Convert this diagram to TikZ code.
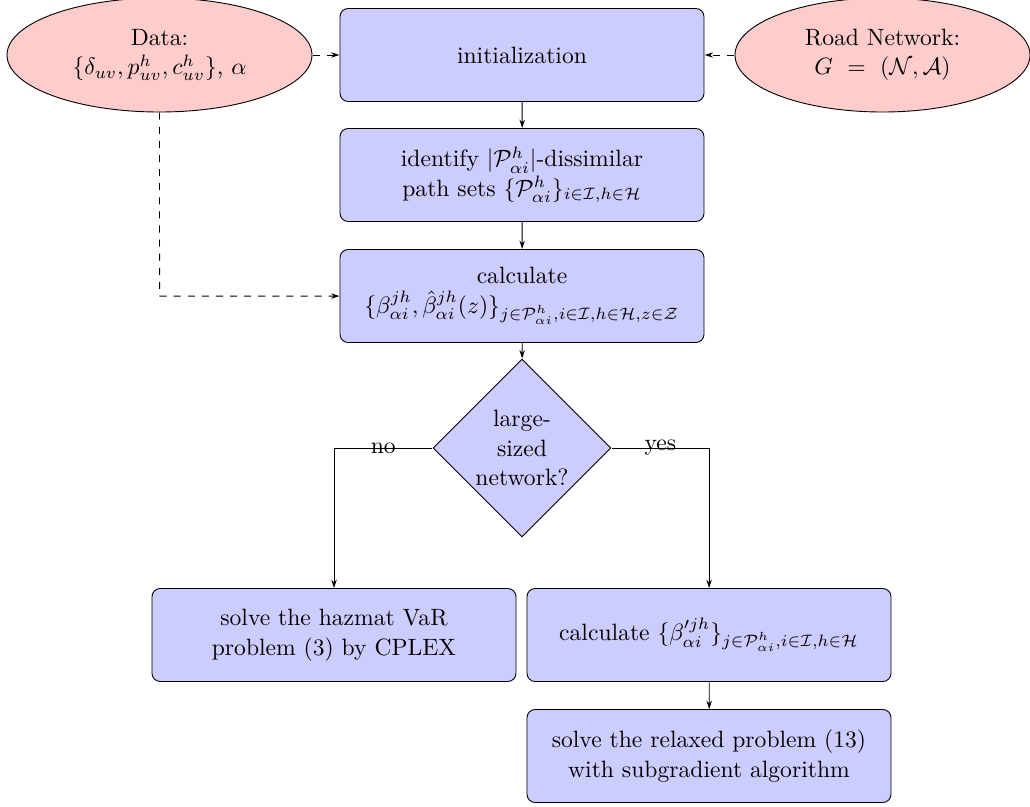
\documentclass[tikz,border=0pt]{standalone}
\usepackage{amsmath}
\usetikzlibrary{shapes.geometric,arrows.meta}
\begin{document}
\begin{tikzpicture}[scale=1.44,x=0.4236pt,y=-0.4236pt,line width=0.55pt,
  every node/.style={transform shape,font=\fontsize{10}{12.5}\selectfont},
  proc/.style={draw,fill=blue!20,rounded corners=5pt,align=center,
    minimum width=364*0.4236pt,minimum height=93*0.4236pt,inner sep=0pt},
  datum/.style={draw,fill=red!20,ellipse,align=center,
    minimum width=305*0.4236pt,minimum height=114*0.4236pt,inner sep=0pt},
  decision/.style={draw,fill=blue!20,diamond,aspect=1,align=center,
    minimum width=178*0.4236pt,minimum height=178*0.4236pt,inner sep=0pt},
  dashline/.style={dash pattern=on 4.3pt off 4.3pt},
  arr/.style={-{Stealth[length=5pt,width=3.3pt]}},
  darr/.style={arr,dashline}]
\useasboundingbox (0,0) rectangle (1030,807);
\node[datum] (data) at (159.5,55) {Data:\\$\{\delta_{uv},p^h_{uv},c^h_{uv}\}$, $\alpha$};
\node[datum,minimum width=295*0.4236pt] (road) at (882.5,55) {Road Network:\\$G\ =\ (\mathcal{N},\mathcal{A})$};
\node[proc] (init) at (522,55) {initialization};
\node[proc] (ident) at (522,175) {identify $|\mathcal{P}^h_{\alpha i}|$-dissimilar\\path sets $\{\mathcal{P}^h_{\alpha i}\}_{i\in\mathcal{I},h\in\mathcal{H}}$};
\node[proc] (calc) at (522,296) {calculate\\$\{\beta^{jh}_{\alpha i},\hat{\beta}^{jh}_{\alpha i}(z)\}_{j\in\mathcal{P}^h_{\alpha i},i\in\mathcal{I},h\in\mathcal{H},z\in\mathcal{Z}}$};
\node[decision] (dec) at (522,448) {large-\\sized\\network?};
\node[proc] (cplex) at (334,635) {solve the hazmat VaR\\problem (3) by CPLEX};
\node[proc] (calc2) at (709,635) {calculate $\{\beta^{\prime jh}_{\alpha i}\}_{j\in\mathcal{P}^h_{\alpha i},i\in\mathcal{I},h\in\mathcal{H}}$};
\node[proc] (relax) at (709,756) {solve the relaxed problem (13)\\with subgradient algorithm};
\coordinate (dturn) at (data.south |- calc.west);
\draw[darr] (data.east) -- (init.west);
\draw[darr] (road.west) -- (init.east);
\draw[dashline] (data.south) -- (dturn);
\draw[darr] (dturn) -- (calc.west);
\draw[arr] (init) -- (ident);
\draw[arr] (ident) -- (calc);
\draw[arr] (calc) -- (dec);
\draw[arr] (dec.west) -| node[pos=0.25,inner sep=0pt] {no} (cplex.north);
\draw[arr] (dec.east) -| node[pos=0.25,inner sep=0pt] {yes} (calc2.north);
\draw[arr] (calc2) -- (relax);
\end{tikzpicture}
\end{document}
